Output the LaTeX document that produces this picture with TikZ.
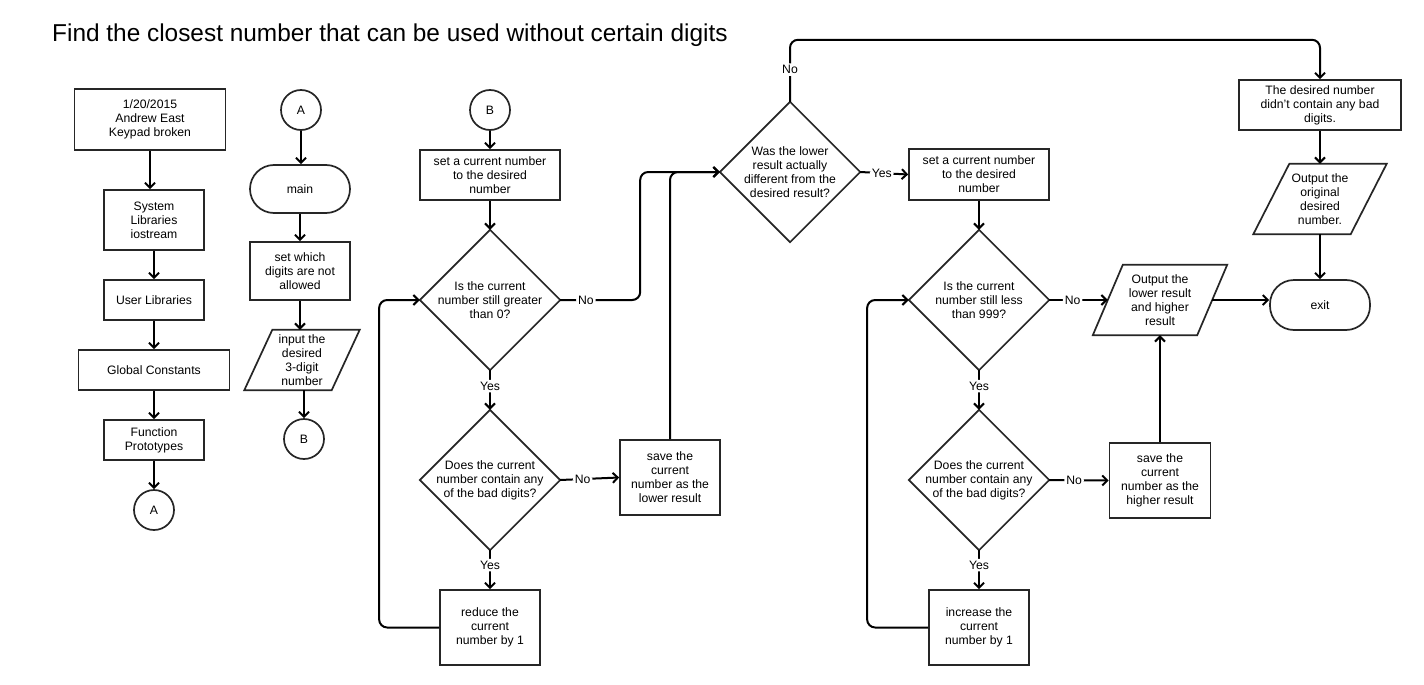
\documentclass[tikz,border=0pt]{standalone}
\usepackage{fontspec}
\setmainfont{Liberation Sans}
\usetikzlibrary{arrows.meta,calc}
\definecolor{shapecol}{HTML}{262626}
\newcommand\mydia[1]{\draw[shp] (#1.north) -- (#1.east) -- (#1.south) -- (#1.west) -- cycle;}
\newcommand\mypara[2]{\draw[shp] ([xshift=#2]#1.north west) -- (#1.north east) -- ([xshift=-#2]#1.south east) -- (#1.south west) -- cycle;}
\begin{document}
\begin{tikzpicture}[x=1pt,y=-1pt,
  every node/.style={font=\fontsize{12.2}{14}\selectfont, align=center, inner sep=0pt},
  shp/.style={draw=shapecol, line width=1.7pt, line join=miter},
  box/.style={shp, fill=white},
  circ/.style={shp, circle, minimum size=40pt},
  term/.style={shp, rounded corners=24pt},
  ghost/.style={},
  arr/.style={draw=black, line width=2pt, rounded corners=8pt, -{Straight Barb[length=5pt,width=10pt]}},
  lbl/.style={fill=white, inner sep=2pt},
]
\useasboundingbox (0,0) rectangle (1424,685);
\fill[white] (0,0) rectangle (1424,685);

\node[anchor=west, font=\fontsize{24.4}{28}\selectfont] (title) at (52,35) {Find the closest number that can be used without certain digits};

% column 1
\node[box, minimum width=151pt, minimum height=61pt] (hdr) at (150,119.5) {1/20/2015\\Andrew East\\Keypad broken};
\node[box, minimum width=100pt, minimum height=60pt] (sys) at (154,220) {System\\Libraries\\iostream};
\node[box, minimum width=100pt, minimum height=40pt] (ulib) at (154,300) {User Libraries};
\node[box, minimum width=151pt, minimum height=40pt] (gconst) at (154,370) {Global Constants};
\node[box, minimum width=100pt, minimum height=40pt] (fproto) at (154,440) {Function\\Prototypes};
\node[circ] (A1) at (154,510) {A};

% column 2
\node[circ] (A2) at (301,110) {A};
\node[term, minimum width=100pt, minimum height=48pt] (main) at (300,189) {main};
\node[box, minimum width=100pt, minimum height=58pt] (setdig) at (300,271) {set which\\digits are not\\allowed};
\node[ghost, minimum width=115pt, minimum height=60pt] (input) at (302,360) {input the\\desired\\3-digit\\number};
\mypara{input}{28pt}
\node[circ] (B1) at (304,439) {B};

% column 3
\node[circ] (B2) at (490,110) {B};
\node[box, minimum width=140pt, minimum height=50pt] (setcur1) at (490,175) {set a current number\\to the desired\\number};
\node[ghost, minimum width=140pt, minimum height=140pt] (d1) at (490,300) {Is the current\\number still greater\\than 0?};
\mydia{d1}
\node[ghost, minimum width=140pt, minimum height=140pt] (d2) at (490,480) {Does the current\\number contain any\\of the bad digits?};
\mydia{d2}
\node[box, minimum width=100pt, minimum height=75pt] (savelo) at (670,477.5) {save the\\current\\number as the\\lower result};
\node[box, minimum width=100pt, minimum height=75pt] (reduce) at (490,627.5) {reduce the\\current\\number by 1};

% middle decision
\node[ghost, minimum width=140pt, minimum height=140pt] (d3) at (790,172) {Was the lower\\result actually\\different from the\\desired result?};
\mydia{d3}

% column 4
\node[box, minimum width=140pt, minimum height=51pt] (setcur2) at (979,174.5) {set a current number\\to the desired\\number};
\node[ghost, minimum width=140pt, minimum height=140pt] (d4) at (979,300) {Is the current\\number still less\\than 999?};
\mydia{d4}
\node[ghost, minimum width=140pt, minimum height=140pt] (d5) at (979,480) {Does the current\\number contain any\\of the bad digits?};
\mydia{d5}
\node[box, minimum width=101pt, minimum height=75pt] (savehi) at (1160,480.5) {save the\\current\\number as the\\higher result};
\node[box, minimum width=100pt, minimum height=75pt] (increase) at (979,627.5) {increase the\\current\\number by 1};
\node[ghost, minimum width=134pt, minimum height=70pt] (outlow) at (1160,300) {Output the\\lower result\\and higher\\result};
\mypara{outlow}{30pt}

% column 5
\node[box, minimum width=162pt, minimum height=50pt] (desired) at (1320,105) {The desired number\\didn't contain any bad\\digits.};
\node[ghost, minimum width=133pt, minimum height=70pt] (outorig) at (1320,199) {Output the\\original\\desired\\number.};
\mypara{outorig}{36pt}
\node[term, minimum width=100pt, minimum height=50pt] (exit) at (1320,305) {exit};

% connectors column 1
\draw[arr] (hdr.south) -- (hdr.south |- sys.north);
\draw[arr] (sys.south) -- (ulib.north);
\draw[arr] (ulib.south) -- (gconst.north);
\draw[arr] (gconst.south) -- (fproto.north);
\draw[arr] (fproto.south) -- (A1.north);

% column 2
\draw[arr] (A2.south) -- (A2.south |- main.north);
\draw[arr] (main.south) -- (setdig.north);
\draw[arr] (setdig.south) -- (setdig.south |- input.north);
\draw[arr] (B1.north |- input.south) -- (B1.north);

% column 3
\draw[arr] (B2.south) -- (setcur1.north);
\draw[arr] (setcur1.south) -- (d1.north);
\draw[arr] (d1.east) -- node[lbl, pos=.32]{No} ++(80,0) |- (d3.west);
\draw[arr] (d1.south) -- node[lbl, pos=.4]{Yes} (d2.north);
\draw[arr] (d2.east) -- node[lbl, pos=.38]{No} (savelo.west);
\draw[arr] (savelo.north) |- (d3.west);
\draw[arr] (d2.south) -- node[lbl, pos=.38]{Yes} (reduce.north);
\draw[arr] (reduce.west) -- ++(-60,0) |- (d1.west);

% middle decision
\draw[arr] (d3.north) -- node[lbl, pos=.52]{No} ++(0,-62) -| (desired.north);
\draw[arr] (d3.east) -- node[lbl, pos=.45]{Yes} (setcur2.west);

% column 4
\draw[arr] (setcur2.south) -- (d4.north);
\draw[arr] (d4.east) -- node[lbl, pos=.4]{No} ([xshift=15pt]outlow.west);
\draw[arr] (d4.south) -- node[lbl, pos=.4]{Yes} (d5.north);
\draw[arr] (d5.east) -- node[lbl, pos=.42]{No} (savehi.west);
\draw[arr] (d5.south) -- node[lbl, pos=.38]{Yes} (increase.north);
\draw[arr] (increase.west) -- ++(-61,0) |- (d4.west);
\draw[arr] (savehi.north) -- (savehi.north |- outlow.south);
\draw[arr] ([xshift=-15pt]outlow.east) -- (outlow.east -| exit.west);

% column 5
\draw[arr] (desired.south) -- (outorig.north);
\draw[arr] (outorig.south) -- (exit.north);
\end{tikzpicture}
\end{document}
